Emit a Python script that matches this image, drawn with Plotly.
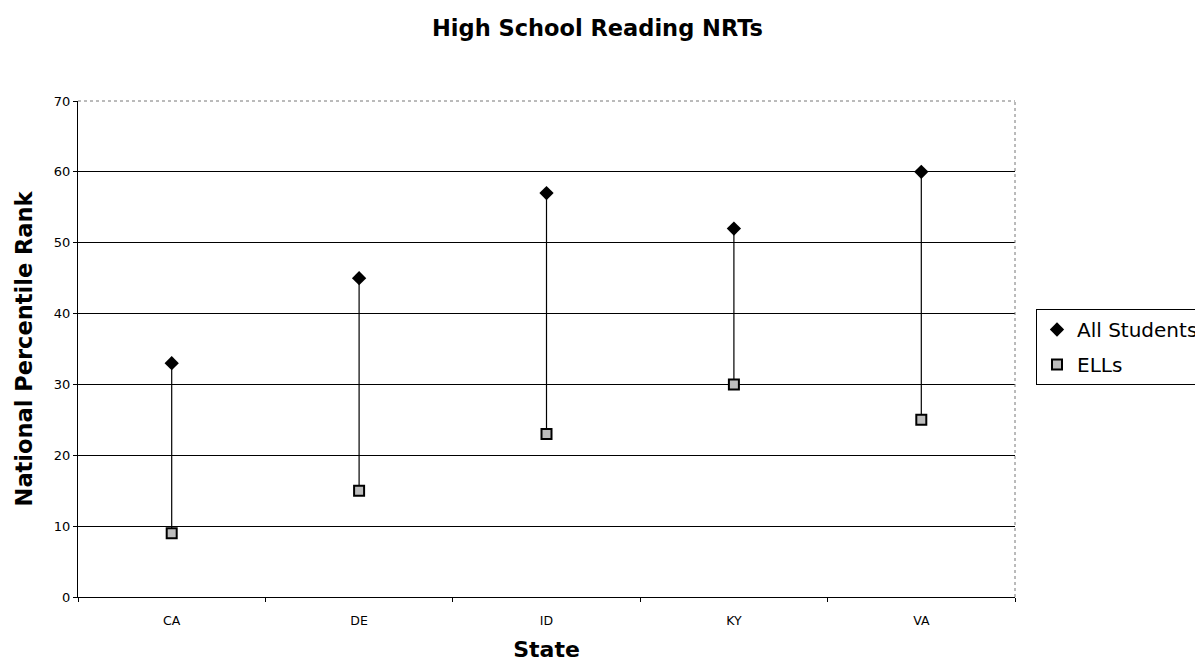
import plotly.graph_objects as go

states = ["CA", "DE", "ID", "KY", "VA"]
all_students = [33, 45, 57, 52, 60]
ells = [9, 15, 23, 30, 25]

FONT = "DejaVu Sans, Liberation Sans, Arial, sans-serif"

# high-low connector lines
lx, ly = [], []
for s, a, e in zip(states, all_students, ells):
    lx += [s, s, None]
    ly += [e, a, None]

W, H = 1225, 664
L, R, T, B = 78, 1015, 101, 597

fig = go.Figure()
fig.add_trace(go.Scatter(x=lx, y=ly, mode="lines", line=dict(color="black", width=1.2),
                         showlegend=False, hoverinfo="skip"))
fig.add_trace(go.Scatter(x=states, y=all_students, mode="markers", name="All Students",
                         legendgroup="a",
                         marker=dict(symbol="diamond", size=11, color="black")))
fig.add_trace(go.Scatter(x=states, y=ells, mode="markers", name="ELLs",
                         legendgroup="b",
                         marker=dict(symbol="square", size=10, color="#bdbdbd",
                                     line=dict(color="black", width=2))))

pw = R - L
ph = B - T
fig.update_layout(
    width=W, height=H,
    margin=dict(l=L, r=W - R, t=T, b=H - B, autoexpand=False),
    paper_bgcolor="white", plot_bgcolor="white",
    font=dict(family=FONT, color="black"),
    title=dict(text="<b>High School Reading NRTs</b>", x=597.5 / W, xanchor="center",
               y=1 - 28 / H, yanchor="middle", font=dict(size=22.5, family=FONT)),
    xaxis=dict(
        type="category", range=[-0.5, 4.5],
        showgrid=False, showline=True, linecolor="black", linewidth=1,
        ticks="outside", tickson="boundaries", ticklen=4, tickcolor="black",
        tickfont=dict(size=12.5), zeroline=False, ticklabelstandoff=12,
        title=dict(text="<b>State</b>", font=dict(size=22), standoff=14),
    ),
    yaxis=dict(
        range=[0, 70], dtick=10, showgrid=True, gridcolor="black", gridwidth=1,
        showline=True, linecolor="black", linewidth=1, zeroline=False,
        ticks="outside", ticklen=4, tickcolor="black", tickfont=dict(size=13),
        title=dict(text="<b>National Percentile Rank</b>", font=dict(size=22.5), standoff=14),
    ),
    legend=dict(x=(1036 - L) / pw, y=(B - 309) / ph, xanchor="left", yanchor="top",
                bordercolor="black", borderwidth=1, bgcolor="white",
                font=dict(size=20, family=FONT), tracegroupgap=6),
    shapes=[
        dict(type="line", xref="paper", yref="paper", x0=0, x1=1, y0=1, y1=1,
             line=dict(color="#777777", width=1, dash="dot")),
        dict(type="line", xref="paper", yref="paper", x0=1, x1=1, y0=0, y1=1,
             line=dict(color="#777777", width=1, dash="dot")),
    ],
)

fig.write_html(
    "out.html",
    config={"displayModeBar": False},
    post_script="document.body.style.margin='0';document.body.style.overflow='hidden';"
                "document.documentElement.style.overflow='hidden';",
)
